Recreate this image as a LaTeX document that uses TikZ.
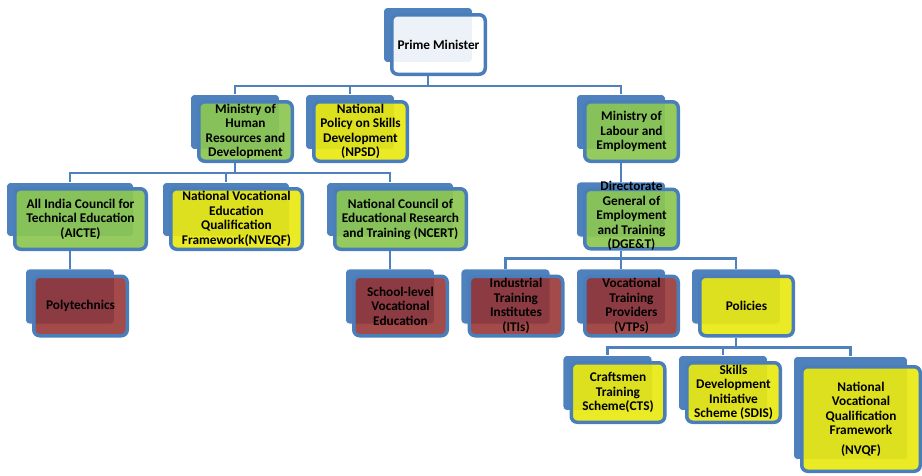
\documentclass[tikz,border=0pt]{standalone}
\usepackage{fontspec}
\setmainfont{Carlito}
\usetikzlibrary{positioning}

\definecolor{smartblue}{RGB}{79,129,189}
\definecolor{edgeblue}{RGB}{74,126,187}
\definecolor{boxgreen}{RGB}{140,198,82}
\definecolor{boxyellow}{RGB}{232,232,20}
\definecolor{boxmaroon}{RGB}{149,50,49}

\tikzset{backbox/.style=
   {rectangle,
    fill=smartblue,
    draw=white,
    line width=0.6pt,
    rounded corners=4pt,
    minimum width=89pt,
    minimum height=55pt}}
\tikzset{widebackbox/.style={backbox, minimum width=127pt, minimum height=54pt}}
\tikzset{frontbox/.style=
   {rectangle,
    draw=edgeblue,
    line width=3.5pt,
    fill opacity=0.93,
    text opacity=1,
    rounded corners=6pt,
    align=center,
    inner sep=0.5pt,
    font=\bfseries\fontsize{13.3}{14.5}\selectfont,
    minimum width=93.5pt,
    minimum height=59.5pt,
    xshift=10.5pt, yshift=-9.5pt}}
\tikzset{widefrontbox/.style={frontbox, minimum width=131.5pt, minimum height=60.5pt}}
\tikzset{orgline/.style = {draw=smartblue, line width=2.8pt}}

\begin{document}
\begin{tikzpicture}[x=1pt, y=-1pt]

    \useasboundingbox (0,0) rectangle (922,475);

    % Place back plates
    \node [backbox] (pmB) at (428,35) {};
    \node [backbox] (mhrdB) at (235,122) {};
    \node [backbox] (npsdB) at (350,122) {};
    \node [backbox] (labourB) at (621,122) {};
    \node [widebackbox] (aicteB) at (70,209.5) {};
    \node [widebackbox] (nveqfB) at (226,209.5) {};
    \node [widebackbox] (ncertB) at (390,209.5) {};
    \node [backbox] (dgetB) at (621,209.5) {};
    \node [backbox] (polyB) at (70,296.5) {};
    \node [backbox] (schoolB) at (390,296.5) {};
    \node [backbox] (itiB) at (505.5,296.5) {};
    \node [backbox] (vtpB) at (621,296.5) {};
    \node [backbox] (policyB) at (736,296.5) {};
    \node [backbox] (ctsB) at (607.5,383) {};
    \node [backbox] (sdisB) at (723,383) {};
    \node [backbox, minimum width=114pt, minimum height=103pt] (nvqfB) at (850.5,408) {};

    % Place boxes
    \node [frontbox, fill=white, fill opacity=0.9] (pm) at (pmB) {Prime Minister};
    \node [frontbox, fill=boxgreen] (mhrd) at (mhrdB)
        {Ministry of\\Human\\Resources and\\Development};
    \node [frontbox, fill=boxyellow] (npsd) at (npsdB)
        {National\\Policy on Skills\\Development\\(NPSD)};
    \node [frontbox, fill=boxgreen] (labour) at (labourB)
        {Ministry of\\Labour and\\Employment};
    \node [widefrontbox, fill=boxgreen] (aicte) at (aicteB)
        {All India Council for\\Technical Education\\(AICTE)};
    \node [widefrontbox, fill=boxyellow] (nveqf) at (nveqfB)
        {National Vocational\\Education\\Qualification\\Framework(NVEQF)};
    \node [widefrontbox, fill=boxgreen] (ncert) at (ncertB)
        {National Council of\\Educational Research\\and Training (NCERT)};
    \node [frontbox, fill=boxgreen] (dget) at (dgetB)
        {\raisebox{-3pt}{\smash{\begin{tabular}{@{}c@{}}Directorate\\General of\\Employment\\and Training\\(DGE\&T)\end{tabular}}}};
    \node [frontbox, fill=boxmaroon, fill opacity=0.88] (poly) at (polyB) {Polytechnics};
    \node [frontbox, fill=boxmaroon, fill opacity=0.88] (school) at (schoolB)
        {School-level\\Vocational\\Education};
    \node [frontbox, fill=boxmaroon, fill opacity=0.88] (iti) at (itiB)
        {Industrial\\Training\\Institutes\\(ITIs)};
    \node [frontbox, fill=boxmaroon, fill opacity=0.88] (vtp) at (vtpB)
        {Vocational\\Training\\Providers\\(VTPs)};
    \node [frontbox, fill=boxyellow] (policy) at (policyB) {Policies};
    \node [frontbox, fill=boxyellow] (cts) at (ctsB)
        {Craftsmen\\Training\\Scheme(CTS)};
    \node [frontbox, fill=boxyellow] (sdis) at (sdisB)
        {Skills\\Development\\Initiative\\Scheme (SDIS)};
    \node [frontbox, fill=boxyellow, minimum width=118.5pt, minimum height=104.5pt,
           yshift=-1.5pt] (nvqf) at (nvqfB)
        {National\\Vocational\\Qualification\\Framework\\[5pt](NVQF)};

    % Draw edges
    \foreach \child in {mhrdB, npsdB, labourB}
        \path [orgline] (pmB |- pm.south) -- ++(0,10) -| (\child.north);
    \foreach \child in {aicteB, nveqfB, ncertB}
        \path [orgline] (mhrdB |- mhrd.south) -- ++(0,10) -| (\child.north);
    \foreach \child in {itiB, vtpB, policyB}
        \path [orgline] (dgetB |- dget.south) -- ++(0,8) -| (\child.north);
    \foreach \child in {ctsB, sdisB, nvqfB}
        \path [orgline] (policyB |- policy.south) -- ++(0,10) -| (\child.north);

    \path [orgline] (labourB |- labour.south) -- (dgetB.north);
    \path [orgline] (aicteB |- aicte.south) -- (polyB.north);
    \path [orgline] (ncertB |- ncert.south) -- (schoolB.north);

\end{tikzpicture}
\end{document}
